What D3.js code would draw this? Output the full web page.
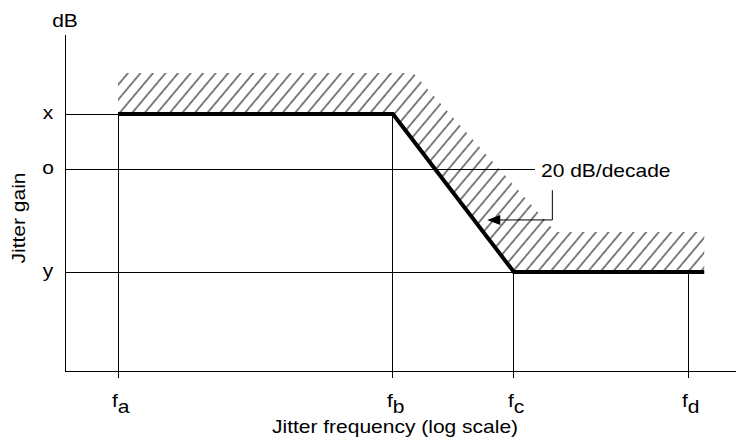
<!DOCTYPE html>
<html>
<head>
<meta charset="utf-8">
<script src="https://cdn.jsdelivr.net/npm/d3@7"></script>
<style>
  body { margin: 0; background: #fff; }
  svg text { font-family: "Liberation Sans", Arial, sans-serif; fill: #000; }
</style>
</head>
<body>
<div id="chart"></div>
<script>
// frequencies (Hz, log scale) and gain (dB)
const freqTicks = [10, 850, 6000, 100000];
const freqLabels = ["a", "b", "c", "d"];
const gainTicks = [6, 0, -11];
const gainLabels = ["x", "o", "y"];

// jitter transfer curve
const responseFreq = [10, 850, 6000, 130000];
const responseGain = [6, 6, -11, -11];

// upper edge of the hatched mask
const maskFreq = [10, 1180, 11800, 130000];
const maskGain = [10.4, 10.4, -6.7, -6.7];

// annotation leader: tip, elbow, top of the vertical leg
const noteFreq = [3900, 11170, 11170];
const noteGain = [-5.4, -5.4, -2.2];
const noteText = "20 dB/decade";

const width = 736;
const height = 448;

const x = d3.scaleLog().domain([10, 100000]).range([118, 688]);
const y = d3.scaleLinear().domain([6, -11]).range([114, 272]);

const axisLeft = 65, axisBottom = 371, axisTop = 35, axisRight = 736;

const svg = d3.select("#chart")
    .append("svg")
    .attr("width", width)
    .attr("height", height);

// hatch pattern
const defs = svg.append("defs");
defs.append("pattern")
    .attr("id", "hatch")
    .attr("patternUnits", "userSpaceOnUse")
    .attr("width", 9.6)
    .attr("height", 20)
    .attr("patternTransform", "rotate(40)")
  .append("line")
    .attr("x1", 1).attr("y1", 0)
    .attr("x2", 1).attr("y2", 20)
    .attr("stroke", "#000")
    .attr("stroke-width", 1);

const maskPts = maskFreq.map((f, i) => [x(f), y(maskGain[i])]);
const respPts = responseFreq.map((f, i) => [x(f), y(responseGain[i])]);
const area = maskPts.concat(respPts.slice().reverse());

svg.append("path")
    .attr("d", d3.line()(area) + "Z")
    .attr("fill", "url(#hatch)")
    .attr("stroke", "none");

// thin guide lines
function hline(x1, x2, yy) {
    svg.append("line")
        .attr("x1", x1).attr("x2", x2)
        .attr("y1", yy).attr("y2", yy)
        .attr("stroke", "#000").attr("stroke-width", 1)
        .attr("shape-rendering", "crispEdges");
}
function vline(xx, y1, y2) {
    svg.append("line")
        .attr("x1", xx).attr("x2", xx)
        .attr("y1", y1).attr("y2", y2)
        .attr("stroke", "#000").attr("stroke-width", 1)
        .attr("shape-rendering", "crispEdges");
}

hline(axisLeft, x(freqTicks[0]), y(gainTicks[0]));
hline(axisLeft, 535, y(gainTicks[1]));
hline(axisLeft, x(freqTicks[2]), y(gainTicks[2]));

vline(x(freqTicks[0]), y(gainTicks[0]), axisBottom + 7);
vline(x(freqTicks[1]), y(gainTicks[0]), axisBottom + 7);
vline(x(freqTicks[2]), y(gainTicks[2]), axisBottom + 7);
vline(x(freqTicks[3]), y(gainTicks[2]), axisBottom + 7);

// axes
vline(axisLeft, axisTop, axisBottom);
hline(axisLeft, axisRight, axisBottom);

// response curve
svg.append("path")
    .attr("d", d3.line()(respPts))
    .attr("fill", "none")
    .attr("stroke", "#000")
    .attr("stroke-width", 4)
    .attr("stroke-linejoin", "miter");

// text is a wide Arial-like face: scale glyphs horizontally
const fs = 17.5;
const sx = 1.2;
function addText(str, tx, ty, anchor, rot) {
    const t = svg.append("text")
        .attr("transform", `translate(${tx},${ty}) rotate(${rot || 0}) scale(${sx},1)`)
        .attr("text-anchor", anchor || "start")
        .style("font-size", fs + "px");
    if (str !== null) t.text(str);
    return t;
}

gainTicks.forEach((g, i) => {
    addText(gainLabels[i], 48, y(g) + 4.5, "middle");
});

freqTicks.forEach((f, i) => {
    const t = addText(null, x(f) - 6, 407);
    t.append("tspan").text("f");
    t.append("tspan").attr("dy", 6).text(freqLabels[i]);
});

addText("dB", axisLeft, 27, "middle");
addText("Jitter frequency (log scale)", 395, 433, "middle");
addText("Jitter gain", 24.5, 218, "middle", -90);

// annotation
addText(noteText, 541, 177);

const notePts = noteFreq.map((f, i) => [x(f), y(noteGain[i])]);
svg.append("path")
    .attr("d", d3.line()([notePts[2], notePts[1], [notePts[0][0] + 10, notePts[0][1]]]))
    .attr("fill", "none")
    .attr("stroke", "#000")
    .attr("stroke-width", 1);

const tip = notePts[0];
svg.append("path")
    .attr("d", `M${tip[0]},${tip[1]} L${tip[0] + 13},${tip[1] - 5} L${tip[0] + 13},${tip[1] + 5} Z`)
    .attr("fill", "#000");
</script>
</body>
</html>
